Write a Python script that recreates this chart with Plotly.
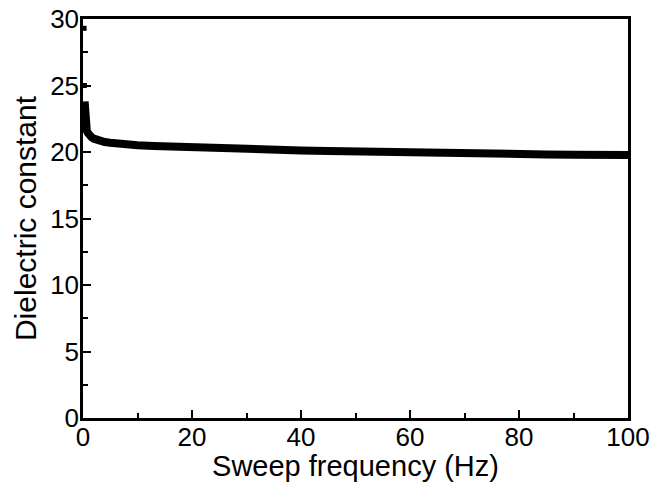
import plotly.graph_objects as go

freq = [0.3, 0.35, 0.4, 0.5, 0.6, 0.7, 0.85, 1.0, 1.3, 1.6, 2.0, 2.5, 3.0, 4.0, 5.0, 6.5, 8.0,
        10.0, 13.0, 16.0, 20.0, 25.0, 30.0, 35.0, 40.0, 45.0, 50.0, 55.0, 60.0, 65.0, 70.0,
        75.0, 80.0, 85.0, 90.0, 95.0, 100.0]
dielectric = [23.8, 23.0, 22.5, 22.1, 21.8, 21.6, 21.45, 21.35, 21.2, 21.1, 21.0, 20.9, 20.85,
              20.75, 20.7, 20.62, 20.56, 20.5, 20.45, 20.4, 20.35, 20.28, 20.22, 20.17, 20.12,
              20.08, 20.03, 20.0, 19.96, 19.93, 19.9, 19.87, 19.84, 19.82, 19.8, 19.78, 19.77]
spike_freq = [0.2, 0.25]
spike_vals = [29.3, 25.0]

fig = go.Figure()
fig.add_trace(go.Scatter(x=freq, y=dielectric, mode="lines",
                         line=dict(color="black", width=8), showlegend=False))
fig.add_trace(go.Scatter(x=spike_freq, y=spike_vals, mode="markers",
                         marker=dict(color="black", size=5, symbol="square"), showlegend=False))

fam = "Liberation Sans, Arial, sans-serif"
fig.update_layout(
    width=652, height=474,
    margin=dict(l=75, r=32, t=11, b=64, autoexpand=False),
    paper_bgcolor="white", plot_bgcolor="white",
    font=dict(family=fam, size=26, color="black"),
)
fig.update_xaxes(
    range=[0, 100], dtick=20, ticks="inside", ticklen=8, tickwidth=2, tickcolor="black",
    showline=True, linewidth=2.5, linecolor="black", mirror=True, showgrid=False, zeroline=False,
    minor=dict(dtick=10, ticks="inside", ticklen=5, tickwidth=2, tickcolor="black"),
    title=dict(text="Sweep frequency (Hz)", font=dict(family=fam, size=29, color="black"), standoff=0),
    tickfont=dict(family=fam, size=26, color="black"),
    ticklabelstandoff=-6,
    ticklabeloverflow="allow",
    automargin=False,
)
fig.update_yaxes(
    range=[0, 30], dtick=5, ticks="inside", ticklen=8, tickwidth=2, tickcolor="black",
    showline=True, linewidth=2.5, linecolor="black", mirror=True, showgrid=False, zeroline=False,
    minor=dict(dtick=2.5, ticks="inside", ticklen=5, tickwidth=2, tickcolor="black"),
    title=dict(text="Dielectric constant", font=dict(family=fam, size=30, color="black"), standoff=5),
    tickfont=dict(family=fam, size=26, color="black"),
    ticklabelstandoff=-4,
    ticklabeloverflow="allow",
    automargin=False,
)

fig.write_html("out.html")
